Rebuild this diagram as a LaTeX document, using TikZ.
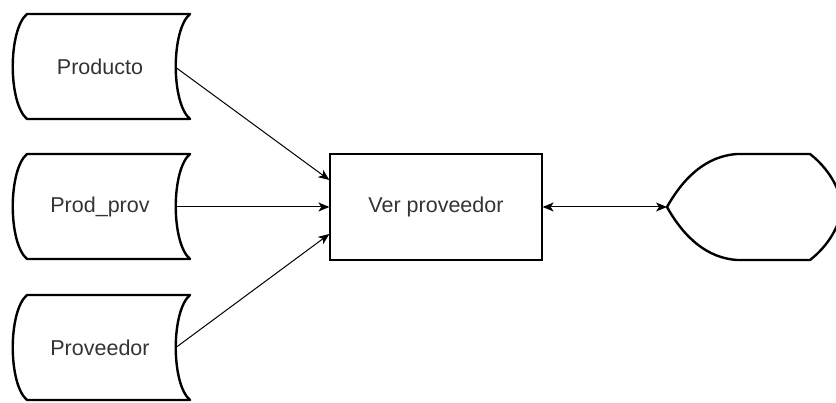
\documentclass[tikz,border=0pt]{standalone}
\usepackage{fontspec}
\setmainfont{Liberation Sans}
\usetikzlibrary{arrows.meta}
\definecolor{txt}{HTML}{333333}
\tikzset{
  label/.style={text=txt, font=\fontsize{21.5}{25}\selectfont, inner sep=0pt},
  outline/.style={line width=2.4pt, line join=round},
  tip/.tip={Stealth[length=11pt,width=9pt,inset=3pt]},
  conn/.style={line width=1pt, -tip}
}
\begin{document}
\begin{tikzpicture}[x=1pt,y=-1pt]
        \useasboundingbox (0,0) rectangle (836,403);

        % data stores
        \foreach \cy in {67, 207, 348}
          \draw[outline] (27,\cy-53) -- (190,\cy-53)
            .. controls (171,\cy-37) and (171,\cy+36) .. (190,\cy+52)
            -- (27,\cy+52)
            .. controls (8,\cy+36) and (8,\cy-37) .. (27,\cy-53) -- cycle;

        \node[label, minimum width=150pt, minimum height=100pt] (prod) at (100, 67) {Producto};
        \node[label, minimum width=150pt, minimum height=100pt] (prodprov) at (100, 207) {Prod\_prov};
        \node[label, minimum width=150pt, minimum height=100pt] (prov) at (100, 348) {Proveedor};

        % process
        \node[label, draw=black, line width=1.3pt, minimum width=212pt, minimum height=106pt] (ver) at (436, 207) {Ver proveedor};

        % display
        \draw[outline] (667,207) .. controls (685,175) and (708,156) .. (737,154)
            -- (810,154) .. controls (828,168) and (840,188) .. (842,207)
            .. controls (840,226) and (828,246) .. (810,260)
            -- (737,260) .. controls (708,258) and (685,239) .. (667,207) -- cycle;
        \coordinate (disp) at (667, 207);

        % flows
        \draw[conn] (prod.east) -- ([yshift=27pt]ver.west);
        \draw[conn] (prodprov.east) -- (ver.west);
        \draw[conn] (prov.east) -- ([yshift=-27pt]ver.west);
        \draw[line width=1pt, tip-tip] (ver.east) -- (disp);
    \end{tikzpicture}
\end{document}
